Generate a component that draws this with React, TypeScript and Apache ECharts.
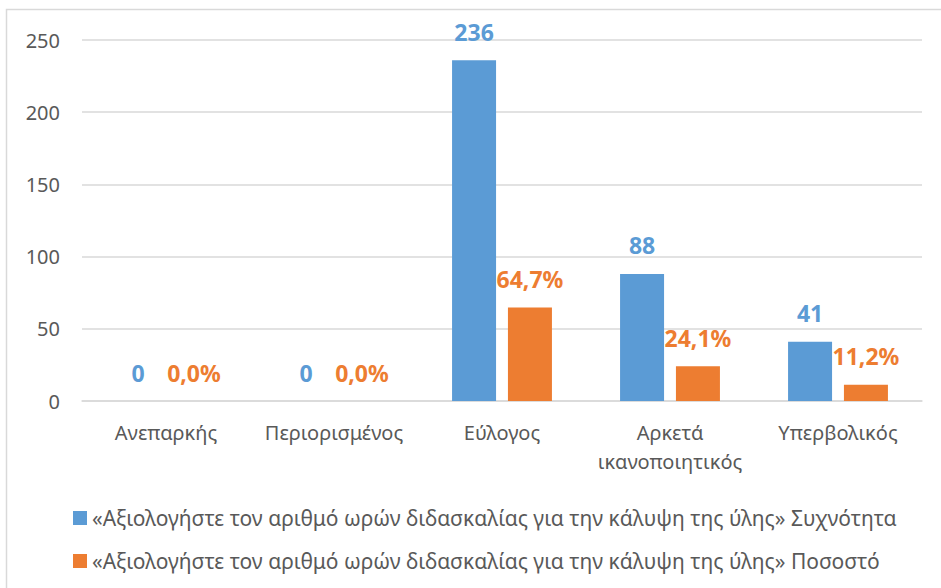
import React, { useEffect, useRef } from "react";
import * as echarts from "echarts";

const categories = ["Ανεπαρκής", "Περιορισμένος", "Εύλογος", "Αρκετά ικανοποιητικός", "Υπερβολικός"];
const frequency = [0, 0, 236, 88, 41];
const percentage = [0.0, 0.0, 64.7, 24.1, 11.2];
const seriesNames = [
  "«Αξιολογήστε τον αριθμό ωρών διδασκαλίας για την κάλυψη της ύλης» Συχνότητα",
  "«Αξιολογήστε τον αριθμό ωρών διδασκαλίας για την κάλυψη της ύλης» Ποσοστό",
];

const FONT = "Noto Sans";

export default function App() {
  const ref = useRef<HTMLDivElement>(null);
  useEffect(() => {
    const chart = echarts.init(ref.current!, null, { renderer: "svg" });
    chart.setOption({
      animation: false,
      backgroundColor: "#ffffff",
      textStyle: { fontFamily: FONT },
      graphic: [
        {
          type: "rect",
          shape: { x: 6.5, y: 9.5, width: 1000, height: 700 },
          style: { fill: "none", stroke: "#d9d9d9", lineWidth: 1.5 },
          silent: true,
        },
      ],
      legend: {
        orient: "vertical",
        left: 68,
        top: 501,
        itemWidth: 14,
        itemHeight: 14,
        itemGap: 19,
        icon: "rect",
        textStyle: { fontFamily: FONT, fontSize: 21, color: "#595959", lineHeight: 24 },
        data: seriesNames,
      },
      grid: { left: 82, right: 19, top: 40, bottom: 187, containLabel: false },
      xAxis: {
        type: "category",
        data: categories,
        axisLine: { lineStyle: { color: "#d9d9d9", width: 1.5 } },
        axisTick: { show: false },
        axisLabel: {
          fontFamily: FONT,
          fontSize: 20,
          color: "#595959",
          margin: 17,
          lineHeight: 29,
          interval: 0,
          formatter: (v: string) => v.replace(" ", "\n"),
        },
      },
      yAxis: {
        type: "value",
        min: 0,
        max: 250,
        interval: 50,
        axisLine: { show: false },
        axisTick: { show: false },
        splitLine: { lineStyle: { color: "#d9d9d9", width: 1.5 } },
        axisLabel: { fontFamily: FONT, fontSize: 20, color: "#595959", margin: 22 },
      },
      series: [
        {
          name: seriesNames[0],
          type: "bar",
          data: frequency,
          barWidth: 44,
          barGap: "27%",
          itemStyle: { color: "#5B9BD5" },
          label: {
            show: true,
            position: "top",
            distance: 17,
            fontFamily: FONT,
            fontWeight: "bold",
            fontSize: 23,
            color: "#5B9BD5",
          },
        },
        {
          name: seriesNames[1],
          type: "bar",
          data: percentage,
          barWidth: 44,
          itemStyle: { color: "#ED7D31" },
          label: {
            show: true,
            position: "top",
            distance: 17,
            fontFamily: FONT,
            fontWeight: "bold",
            fontSize: 23,
            color: "#ED7D31",
            formatter: (p: any) => p.value.toFixed(1).replace(".", ",") + "%",
          },
        },
      ],
    });
    return () => chart.dispose();
  }, []);
  return (
    <div
      ref={ref}
      style={{ position: "fixed", left: 0, top: 0, width: 941, height: 588, background: "#fff" }}
    />
  );
}
